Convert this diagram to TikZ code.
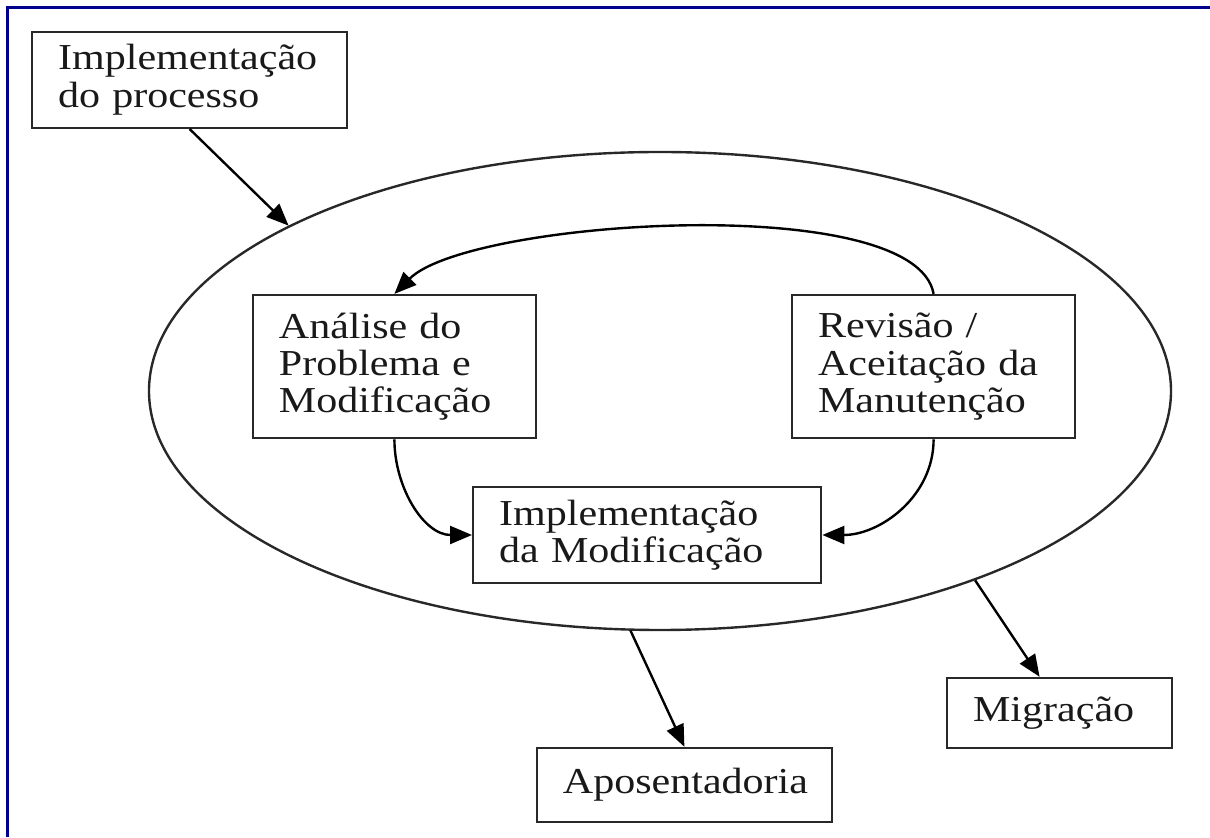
\documentclass[tikz,border=0pt]{standalone}
\usepackage{fontspec}
\setmainfont{Liberation Serif}[FakeStretch=1.15]
\usetikzlibrary{arrows.meta, shapes.geometric}
\definecolor{moldura}{RGB}{0,0,140}
\definecolor{traco}{RGB}{40,40,40}

\begin{document}
\begin{tikzpicture}[
    caixa/.style={draw=traco, line width=1.7pt, align=left, inner xsep=0.65cm,
      inner ysep=0.2cm, font=\fontsize{26}{26.5}\selectfont, text=black!90},
    seta/.style={line width=1.7pt, -{Triangle[length=0.55cm, width=0.45cm]}}
  ]
      % 1. moldura (so topo e lado esquerdo)
      \useasboundingbox (0,0) rectangle (30.25,20.925);
      \draw[moldura, line width=0.075cm] (0.1875,0) -- (0.1875,20.7375) -- (30.25,20.7375);

      % 2. elipse do ciclo de manutencao
      \node[draw=traco, line width=1.7pt, ellipse, minimum width=25.55cm,
        minimum height=11.95cm] (ciclo) at (16.5,11.15) {};

      % 3. caixas
      \node[caixa, text width=6.575cm, minimum height=2.4cm] (processo) at (4.74,18.93)
        {Implementação\\do processo};
      \node[caixa, text width=5.775cm, minimum height=3.575cm] (analise) at (9.86,11.76)
        {Análise do\\Problema e\\Modificação};
      \node[caixa, text width=5.775cm, minimum height=3.575cm] (revisao) at (23.34,11.76)
        {Revisão /\\Aceitação da\\Manutenção};
      \node[caixa, text width=7.4cm, minimum height=2.4cm] (implmod) at (16.18,7.55)
        {Implementação\\da Modificação};
      \node[caixa, text width=4.325cm, minimum height=1.75cm] (migracao) at (26.49,3.1)
        {Migração};
      \node[caixa, text width=6.075cm, minimum height=1.85cm] (aposent) at (17.11,1.3)
        {Aposentadoria};

      % 4. setas
      \draw[seta] (processo.south) -- (ciclo.156);
      \draw[seta] (revisao.north) to[out=100, in=45, looseness=0.5] (analise.north);
      \draw[seta] (analise.south) to[out=-90, in=180] (implmod.west);
      \draw[seta] (revisao.south) to[out=-90, in=0] (implmod.east);
      \draw[seta] (ciclo.263) -- (aposent.north);
      \draw[seta] (ciclo.329) -- ([xshift=-0.5cm]migracao.north);
    \end{tikzpicture}
\end{document}
